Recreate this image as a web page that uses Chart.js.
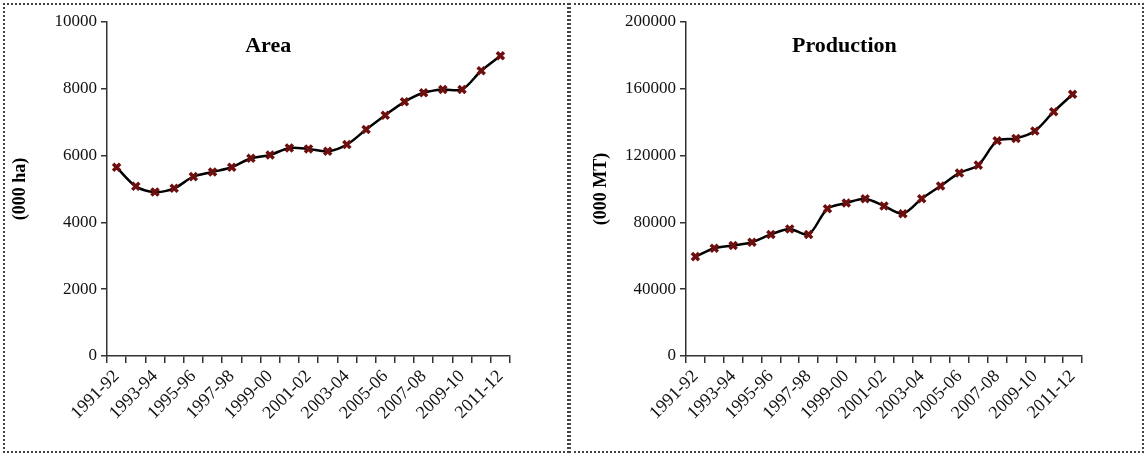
<!DOCTYPE html>
<html>
<head>
<meta charset="utf-8">
<script src="https://cdn.jsdelivr.net/npm/chart.js@4.4.0/dist/chart.umd.min.js"></script>
<style>
  body { margin: 0; background: #fff; }
  .panel { position: absolute; top: 3px; height: 446px; border: 2px dotted #444; }
  #p1 { left: 3px; width: 562px; }
  #p2 { left: 569px; width: 571px; }
</style>
</head>
<body>
<div class="panel" id="p1"><canvas id="chart1"></canvas></div>
<div class="panel" id="p2"><canvas id="chart2"></canvas></div>
<script>
// years
var years = ["1991-92","1992-93","1993-94","1994-95","1995-96","1996-97","1997-98","1998-99","1999-00","2000-01",
  "2001-02","2002-03","2003-04","2004-05","2005-06","2006-07","2007-08","2008-09","2009-10","2010-11","2011-12"];

// area (000 ha)
var areaValues = [5650, 5080, 4910, 5020, 5370, 5510, 5650, 5920, 6020, 6230,
  6200, 6130, 6330, 6780, 7210, 7610, 7880, 7980, 7980, 8540, 8990];

// production (000 MT)
var prodValues = [59500, 64500, 66200, 68100, 72800, 76100, 72800, 88200, 91600, 94200,
  89800, 85200, 94200, 101800, 109600, 114300, 128900, 130300, 134700, 146300, 156700];

var serif = "'Liberation Serif', 'Times New Roman', serif";

// titolo dentro l'area del grafico
var innerTitle = {
  id: 'innerTitle',
  afterDraw: function(chart, args, opts){
    var ctx = chart.ctx, ca = chart.chartArea;
    ctx.save();
    ctx.font = "bold 22px " + serif;
    ctx.fillStyle = "#000";
    ctx.textAlign = "center";
    ctx.textBaseline = "middle";
    ctx.fillText(opts.text, ca.left + opts.x * (ca.right - ca.left), ca.top + opts.dy);
    ctx.restore();
  }
};

function makeChart(id, values, max, step, yTitle, title, yWidth, padRight, titlePad){
  return new Chart(document.getElementById(id), {
    type: 'line',
    data: {
      labels: years,
      datasets: [{
        data: values,
        borderColor: '#000',
        borderWidth: 2.5,
        tension: 0.3,
        pointStyle: 'crossRot',
        pointRadius: 5,
        pointBorderWidth: 3.5,
        pointBorderColor: '#6e0f0f',
        pointBackgroundColor: '#6e0f0f'
      }]
    },
    options: {
      responsive: false,
      animation: false,
      layout: { padding: { top: 17, right: padRight, left: 0, bottom: 0 } },
      plugins: {
        legend: { display: false },
        tooltip: { enabled: false },
        innerTitle: { text: title, x: 0.40, dy: 24 }
      },
      scales: {
        x: {
          offset: true,
          afterFit: function(s){ s.height = 95; },
          border: { color: '#333', width: 1.5 },
          grid: { offset: true, drawOnChartArea: false, tickLength: 7, color: '#333', lineWidth: 1.5 },
          ticks: {
            autoSkip: false,
            maxRotation: 45, minRotation: 45,
            color: '#111',
            font: { family: serif, size: 18 },
            callback: function(v, i){ return i % 2 == 0 ? years[i] : ''; }
          }
        },
        y: {
          min: 0, max: max,
          afterFit: function(s){ s.width = yWidth; },
          border: { color: '#333', width: 1.5 },
          grid: { drawOnChartArea: false, tickLength: 6, color: '#333', lineWidth: 1.5 },
          ticks: {
            stepSize: step, color: '#111', padding: 4,
            font: { family: serif, size: 17 },
            callback: function(v){ return String(v); }
          },
          title: {
            display: true, text: yTitle, color: '#000',
            font: { family: serif, size: 18, weight: 'bold' },
            padding: { top: titlePad, bottom: 0 }
          }
        }
      }
    },
    plugins: [innerTitle]
  });
}

var c1 = document.getElementById('chart1');
c1.width = 562; c1.height = 446;
var c2 = document.getElementById('chart2');
c2.width = 571; c2.height = 446;

makeChart('chart1', areaValues, 10000, 2000, '(000 ha)', 'Area', 102, 57, 5);
makeChart('chart2', prodValues, 200000, 40000, '(000 MT)', 'Production', 115, 60, 20);
</script>
</body>
</html>
